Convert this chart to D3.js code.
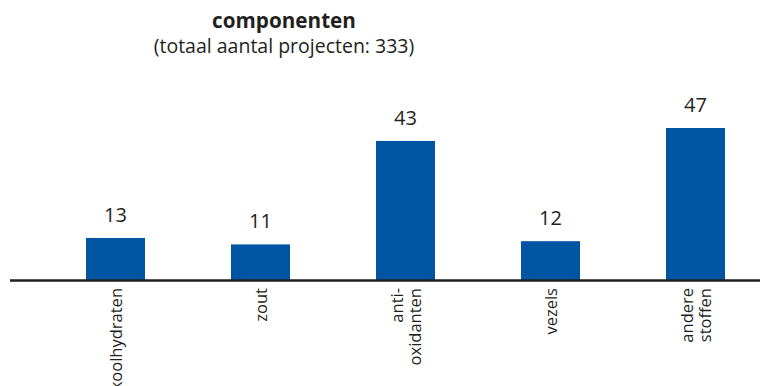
<!DOCTYPE html>
<html><head><meta charset="utf-8">
<script src="https://cdn.jsdelivr.net/npm/d3@7"></script>
<style>body{margin:0;background:#fff}svg{display:block}</style>
</head><body>
<script>
const categories = [["koolhydraten"], ["zout"], ["anti-", "oxidanten"], ["vezels"], ["andere", "stoffen"]];
const values = [13, 11, 43, 12, 47];
const title = "componenten";
const subtitle = "(totaal aantal projecten: 333)";

const W = 760, H = 386, baseY = 280;
const font = "'Open Sans', 'Noto Sans', sans-serif";
const svg = d3.select("body").append("svg").attr("width", W).attr("height", H);

const x = d3.scaleBand().domain(d3.range(values.length)).range([43, 768])
  .paddingInner(0.593).paddingOuter(0.2965);
const y = d3.scaleLinear().domain([0, 47]).range([baseY, 128]);

svg.append("text").attr("x", 284).attr("y", 28).attr("text-anchor", "middle")
  .attr("font-family", font).attr("font-weight", "bold").attr("font-size", 20.7).attr("fill", "#231f20").text(title);
svg.append("text").attr("x", 284).attr("y", 53).attr("text-anchor", "middle")
  .attr("font-family", font).attr("font-size", 19.5).attr("fill", "#231f20").text(subtitle);

svg.selectAll("rect.bar").data(values).join("rect").attr("class", "bar")
  .attr("x", (d, i) => x(i)).attr("width", x.bandwidth())
  .attr("y", d => y(d)).attr("height", d => baseY - y(d)).attr("fill", "#0055a2");

svg.selectAll("text.val").data(values).join("text").attr("class", "val")
  .attr("x", (d, i) => x(i) + x.bandwidth() / 2).attr("y", d => y(d) - 16)
  .attr("text-anchor", "middle").attr("font-family", font).attr("font-size", 20).attr("fill", "#231f20")
  .text(d => d);

svg.append("line").attr("x1", 10).attr("x2", W).attr("y1", baseY + 0.5).attr("y2", baseY + 0.5)
  .attr("stroke", "#231f20").attr("stroke-width", 2.5);

categories.forEach((lines, i) => {
  const cx = x(i) + x.bandwidth() / 2;
  const n = lines.length, lh = 18;
  lines.forEach((t, j) => {
    const lx = cx + (j - (n - 1) / 2) * lh + 6;
    svg.append("text").attr("transform", `translate(${lx},288) rotate(-90)`)
      .attr("text-anchor", "end").attr("font-family", font).attr("font-size", 16.5).attr("fill", "#231f20")
      .text(t);
  });
});
</script>
</body></html>
